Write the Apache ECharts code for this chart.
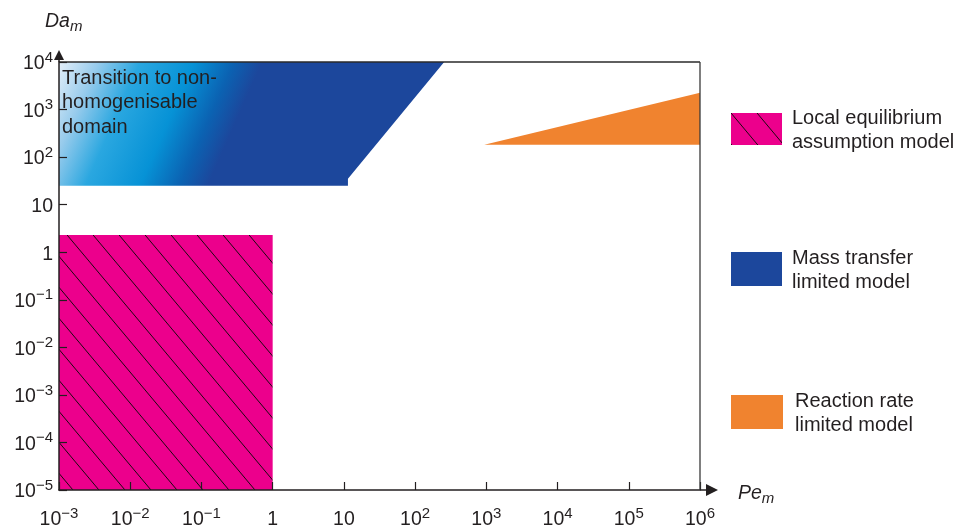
<!DOCTYPE html>
<html><head><meta charset="utf-8">
<script src="https://cdn.jsdelivr.net/npm/echarts@6/dist/echarts.min.js"></script>
<style>html,body{margin:0;padding:0;background:#fff}#c{width:962px;height:532px}</style>
</head><body><div id="c"></div>
<script>
// ---- data ----
const peTicks = [1e-3, 1e-2, 1e-1, 1, 10, 1e2, 1e3, 1e4, 1e5, 1e6];
const daTicks = [1e-5, 1e-4, 1e-3, 1e-2, 1e-1, 1, 10, 1e2, 1e3, 1e4];
const seriesNames = ['Local equilibrium\nassumption model', 'Mass transfer\nlimited model', 'Reaction rate\nlimited model'];
const localEqPe = [1e-3, 1, 1, 1e-3];
const localEqDa = [1e-5, 1e-5, 2.3, 2.3];
const massPe = [1e-3, 256, 11.4, 11.4, 1e-3];
const massDa = [1e4, 1e4, 35, 25, 25];
const reactPe = [935, 1e6, 1e6];
const reactDa = [181, 181, 2260];
const annotation = 'Transition to non-\nhomogenisable\ndomain';

const FONT = "'Liberation Sans', Arial, Helvetica, sans-serif";
const TXT = '#231f20';
const PINK = '#ec008c', BLUE = '#1c479c', ORANGE = '#f0832f';

function makeHatch() {
  const w = 26, h = 31;
  const c = document.createElement('canvas');
  c.width = w; c.height = h;
  const ctx = c.getContext('2d');
  ctx.fillStyle = PINK; ctx.fillRect(0, 0, w, h);
  ctx.strokeStyle = '#1a0a10'; ctx.lineWidth = 1;
  for (const dx of [-w, 0, w]) {
    ctx.beginPath();
    ctx.moveTo(dx - w * 0.2, -h * 0.2);
    ctx.lineTo(dx + w * 1.2, h * 1.2);
    ctx.stroke();
  }
  return { image: c, repeat: 'repeat' };
}
const hatch = makeHatch();

function expLabel(v) {
  const e = Math.round(Math.log10(v));
  if (e === 0) return '{b|1}';
  if (e === 1) return '{b|10}';
  return '{b|10}{s|' + (e < 0 ? '\u2212' + (-e) : e) + '}';
}
const rich = {
  b: { fontSize: 19.5, fontFamily: FONT, color: TXT, lineHeight: 24, verticalAlign: 'bottom' },
  s: { fontSize: 15, fontFamily: FONT, color: TXT, lineHeight: 12, verticalAlign: 'top' }
};

function polySeries(name, xs, ys, styleFn) {
  return {
    type: 'custom', name: name, coordinateSystem: 'cartesian2d', clip: false, silent: true,
    data: xs.map((x, i) => [x, ys[i]]),
    renderItem: function (params, api) {
      if (params.dataIndex !== 0) return null;
      const pts = xs.map((x, i) => api.coord([x, ys[i]]));
      return { type: 'polygon', shape: { points: pts }, style: styleFn(pts) };
    },
    z: 2
  };
}

const subRich = {
  i: { fontSize: 19.5, fontStyle: 'italic', fontFamily: FONT, fill: TXT, lineHeight: 22, verticalAlign: 'top' },
  m: { fontSize: 15, fontStyle: 'italic', fontFamily: FONT, fill: TXT, lineHeight: 14, verticalAlign: 'bottom' }
};

const chart = echarts.init(document.getElementById('c'), null, { renderer: 'canvas' });
chart.setOption({
  animation: false,
  backgroundColor: '#fff',
  grid: { left: 59, top: 62, width: 641, height: 428, containLabel: false },
  xAxis: {
    type: 'log', logBase: 10, min: peTicks[0], max: peTicks[peTicks.length - 1], splitNumber: 9,
    z: 10,
    axisLine: { show: true, lineStyle: { color: TXT, width: 1.5 } },
    axisTick: { show: true, inside: true, length: 8, lineStyle: { color: TXT, width: 1.2 } },
    splitLine: { show: false }, minorTick: { show: false },
    axisLabel: { formatter: expLabel, rich: rich, margin: 16, showMinLabel: true, showMaxLabel: true }
  },
  yAxis: {
    type: 'log', logBase: 10, min: daTicks[0], max: daTicks[daTicks.length - 1], splitNumber: 9,
    z: 10,
    axisLine: { show: true, lineStyle: { color: TXT, width: 1.5 } },
    axisTick: { show: true, inside: true, length: 8, lineStyle: { color: TXT, width: 1.2 } },
    splitLine: { show: false },
    axisLabel: { formatter: expLabel, rich: rich, margin: 6, showMinLabel: true, showMaxLabel: true }
  },
  series: [
    polySeries(seriesNames[0], localEqPe, localEqDa, () => ({ fill: hatch })),
    polySeries(seriesNames[1], massPe, massDa, (pts) => {
      const o = pts[0];
      const L = 200, dx = 0.915, dy = 0.403;
      return {
        fill: new echarts.graphic.LinearGradient(o[0], o[1], o[0] + L * dx, o[1] + L * dy, [
          { offset: 0, color: '#e4eff9' },
          { offset: 0.18, color: '#97cbec' },
          { offset: 0.37, color: '#2aa7e0' },
          { offset: 0.62, color: '#0692d6' },
          { offset: 0.8, color: '#0b62b2' },
          { offset: 0.93, color: BLUE },
          { offset: 1, color: BLUE }
        ], true)
      };
    }),
    polySeries(seriesNames[2], reactPe, reactDa, () => ({ fill: ORANGE })),
    {
      type: 'custom', coordinateSystem: 'cartesian2d', clip: false, silent: true, z: 20,
      data: [[peTicks[0], daTicks[0]]],
      renderItem: function (params, api) {
        const cs = params.coordSys;
        const x0 = cs.x, y0 = cs.y, w = cs.width, h = cs.height;
        const st = { stroke: TXT, lineWidth: 1.5 };
        return {
          type: 'group', children: [
            { type: 'line', shape: { x1: x0, y1: y0, x2: x0 + w, y2: y0 }, style: { stroke: '#2a2a2a', lineWidth: 1.5 } },
            { type: 'line', shape: { x1: x0 + w, y1: y0, x2: x0 + w, y2: y0 + h }, style: { stroke: '#3a3a3a', lineWidth: 1.3 } },
            { type: 'line', shape: { x1: x0 + w, y1: y0 + h, x2: x0 + w + 8, y2: y0 + h }, style: st },
            { type: 'polygon', shape: { points: [[x0 + w + 6, y0 + h - 6], [x0 + w + 18, y0 + h], [x0 + w + 6, y0 + h + 6]] }, style: { fill: TXT } },
            { type: 'line', shape: { x1: x0, y1: y0, x2: x0, y2: y0 - 4 }, style: st },
            { type: 'polygon', shape: { points: [[x0 - 5, y0 - 2], [x0, y0 - 12], [x0 + 5, y0 - 2]] }, style: { fill: TXT } }
          ]
        };
      }
    }
  ],
  graphic: [
    { type: 'text', left: 62, top: 66, z: 30, style: { text: annotation, font: '20px ' + FONT, fill: TXT, lineHeight: 24.5 } },
    { type: 'text', left: 45, top: 12, z: 30, style: { text: '{i|Da}{m|m}', rich: subRich } },
    { type: 'text', left: 738, top: 484, z: 30, style: { text: '{i|Pe}{m|m}', rich: subRich } },
    { type: 'rect', left: 731, top: 113, z: 30, shape: { width: 51, height: 32 }, style: { fill: hatch } },
    { type: 'rect', left: 731, top: 252, z: 30, shape: { width: 51, height: 34 }, style: { fill: BLUE } },
    { type: 'rect', left: 731, top: 395, z: 30, shape: { width: 52, height: 34 }, style: { fill: ORANGE } },
    { type: 'text', left: 792, top: 106, z: 30, style: { text: seriesNames[0], font: '20px ' + FONT, fill: TXT, lineHeight: 24 } },
    { type: 'text', left: 792, top: 246, z: 30, style: { text: seriesNames[1], font: '20px ' + FONT, fill: TXT, lineHeight: 24 } },
    { type: 'text', left: 795, top: 389, z: 30, style: { text: seriesNames[2], font: '20px ' + FONT, fill: TXT, lineHeight: 24 } }
  ]
});
</script></body></html>
